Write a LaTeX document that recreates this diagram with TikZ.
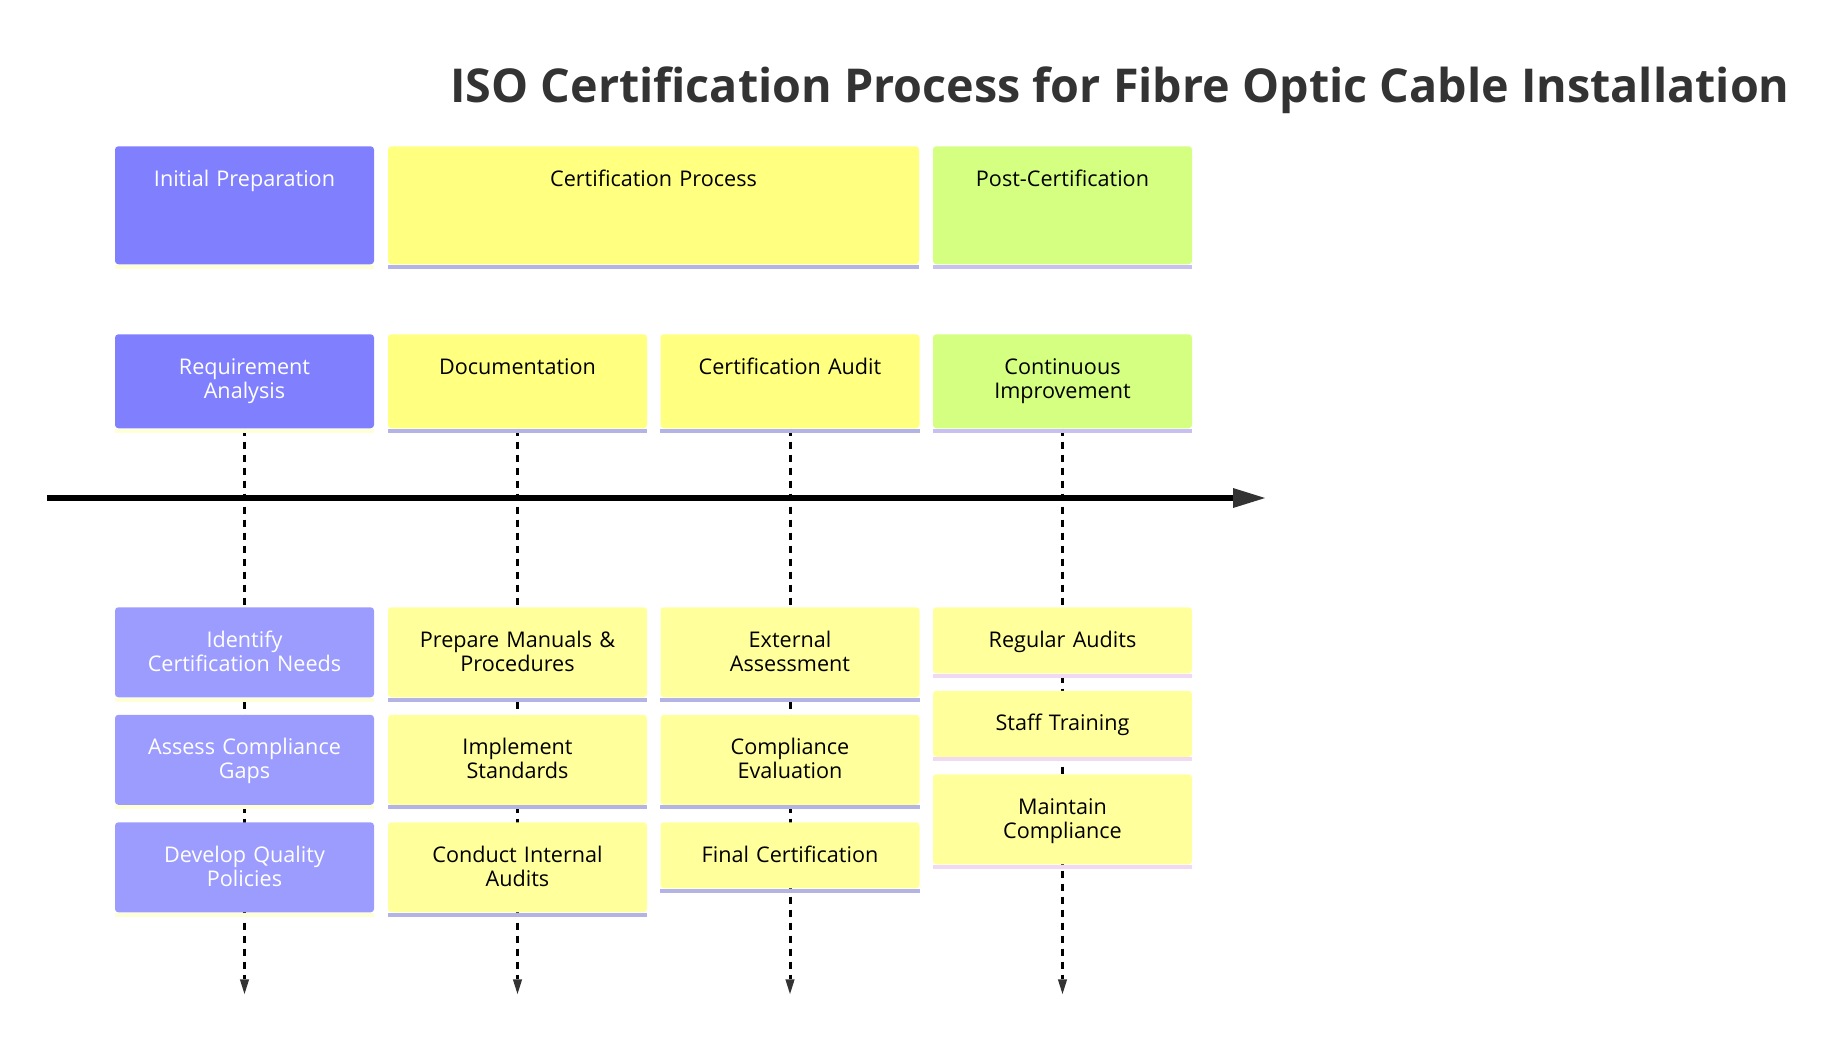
\documentclass[tikz,border=0pt]{standalone}
\usepackage{fontspec}
\setmainfont{Open Sans}
\usetikzlibrary{arrows.meta,positioning,backgrounds}

\definecolor{ttl}{HTML}{333333}
\definecolor{purA}{HTML}{8080FF}
\definecolor{purB}{HTML}{9C9CFF}
\definecolor{yelA}{HTML}{FFFF80}
\definecolor{yelB}{HTML}{FFFF9C}
\definecolor{grnA}{HTML}{D4FF80}
\definecolor{edgeL}{HTML}{B3B3E6}
\definecolor{edgeY}{HTML}{FFFFD6}
\definecolor{edgeG}{HTML}{C8C0F0}
\definecolor{edgeP}{HTML}{F2D9F2}

\tikzset{
  box/.style={anchor=north, rounded corners=2.5pt, inner xsep=0pt, inner ysep=0pt,
    text width=194.25pt, align=center, text height=30pt,
    font=\fontsize{16.2pt}{17.8pt}\selectfont},
  hdr/.style={box, text depth=58.5pt},
  sec/.style={box, text depth=40.5pt},
  task/.style={box, text depth=37.5pt},
  short/.style={box, text depth=19.5pt},
  botline/.style={line width=3pt},
  vline/.style={line width=2.25pt, dash pattern=on 5.25pt off 4.5pt,
    -{Triangle[length=11pt,width=7pt,line width=0pt,color=ttl]}},
}

\begin{document}
\begin{tikzpicture}[x=0.75pt, y=-0.75pt]
  \useasboundingbox (0,0) rectangle (1837,1050);

  \node[font=\fontsize{35pt}{41pt}\selectfont\bfseries, text=ttl] (title) at (1120,90)
    {ISO Certification Process for Fibre Optic Cable Installation};

  % periods
  \node[hdr, fill=purA, text=white] (ip) at (244.5,146) {Initial Preparation};
  \node[hdr, fill=yelA, text width=398.25pt] (cp) at (653.5,146) {Certification Process};
  \node[hdr, fill=grnA] (pc) at (1062.5,146) {Post-Certification};

  % sections
  \node[sec, fill=purA, text=white] (ra) at (244.5,334) {Requirement\\Analysis};
  \node[sec, fill=yelA] (doc) at (517.5,334) {Documentation};
  \node[sec, fill=yelA] (ca) at (790,334) {Certification Audit};
  \node[sec, fill=grnA] (ci) at (1062.5,334) {Continuous\\Improvement};

  % tasks
  \node[task, fill=purB, text=white] (ra1) at (244.5,607) {Identify\\Certification Needs};
  \node[task, fill=purB, text=white, below=12.75pt of ra1] (ra2) {Assess Compliance\\Gaps};
  \node[task, fill=purB, text=white, below=12.75pt of ra2] (ra3) {Develop Quality\\Policies};

  \node[task, fill=yelB] (doc1) at (517.5,607) {Prepare Manuals \&\\Procedures};
  \node[task, fill=yelB, below=12.75pt of doc1] (doc2) {Implement\\Standards};
  \node[task, fill=yelB, below=12.75pt of doc2] (doc3) {Conduct Internal\\Audits};

  \node[task, fill=yelB] (ca1) at (790,607) {External\\Assessment};
  \node[task, fill=yelB, below=12.75pt of ca1] (ca2) {Compliance\\Evaluation};
  \node[short, fill=yelB, below=12.75pt of ca2] (ca3) {Final Certification};

  \node[short, fill=yelB] (ci1) at (1062.5,607) {Regular Audits};
  \node[short, fill=yelB, below=12.75pt of ci1] (ci2) {Staff Training};
  \node[task, fill=yelB, below=12.75pt of ci2] (ci3) {Maintain\\Compliance};

  \foreach \n in {ip,ra,ra1,ra2,ra3}
    \draw[botline, edgeY] ([yshift=-1.5pt]\n.south west) -- ([yshift=-1.5pt]\n.south east);
  \foreach \n in {cp,doc,ca,doc1,doc2,doc3,ca1,ca2,ca3}
    \draw[botline, edgeL] ([yshift=-1.5pt]\n.south west) -- ([yshift=-1.5pt]\n.south east);
  \foreach \n in {pc,ci}
    \draw[botline, edgeG] ([yshift=-1.5pt]\n.south west) -- ([yshift=-1.5pt]\n.south east);
  \foreach \n in {ci1,ci2,ci3}
    \draw[botline, edgeP] ([yshift=-1.5pt]\n.south west) -- ([yshift=-1.5pt]\n.south east);

  \coordinate (tl-start) at (47,498);
  \coordinate (tl-end) at (1265,498);
  \coordinate (ra-end) at (244.5,994);
  \coordinate (doc-end) at (517.5,994);
  \coordinate (ca-end) at (790,994);
  \coordinate (ci-end) at (1062.5,994);

  \begin{scope}[on background layer]
    \foreach \n in {ra,doc,ca,ci}
      \draw[vline] (\n.south) -- (\n-end);
    \draw[line width=4pt, -{Triangle[length=24pt,width=15pt,line width=0pt,color=ttl]}]
      (tl-start) -- (tl-end);
  \end{scope}
\end{tikzpicture}
\end{document}
